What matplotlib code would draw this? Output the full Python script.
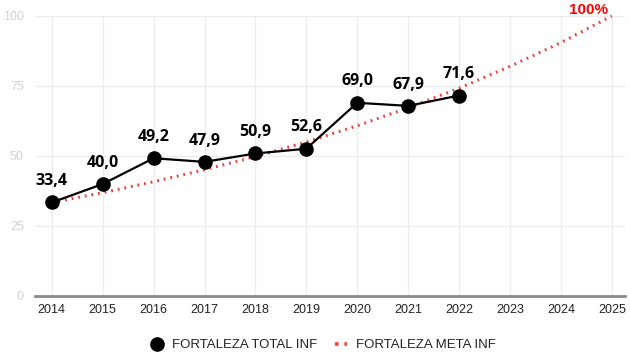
import matplotlib
matplotlib.use("Agg")
import matplotlib.pyplot as plt
from matplotlib.lines import Line2D

years = [2014, 2015, 2016, 2017, 2018, 2019, 2020, 2021, 2022, 2023, 2024, 2025]
total_years = [2014, 2015, 2016, 2017, 2018, 2019, 2020, 2021, 2022]
total_values = [33.4, 40.0, 49.2, 47.9, 50.9, 52.6, 69.0, 67.9, 71.6]
meta_values = [33.4, 36.9, 40.8, 45.1, 49.8, 55.0, 60.8, 67.2, 74.2, 82.0, 90.5, 100.0]
y_ticks = [0, 25, 50, 75, 100]
total_label = "FORTALEZA TOTAL INF"
meta_label = "FORTALEZA META INF"

plt.rcParams['font.family'] = ['Liberation Sans', 'DejaVu Sans']

fig = plt.figure(figsize=(6.3, 3.56), dpi=100)
ax = fig.add_axes([35 / 630, 1 - 296 / 356, 590 / 630, 280 / 356])

red = "#e8433b"
ax.plot(years, meta_values, color=red, lw=2.2, linestyle=(0, (0.6, 1.6)),
        dash_capstyle='butt', zorder=2, clip_on=False)
ax.plot(total_years, total_values, color="black", lw=1.6, marker="o",
        markersize=9.5, zorder=3, clip_on=False)

for x, v in zip(total_years, total_values):
    ax.annotate(f"{v:.1f}".replace(".", ","), (x, v), xytext=(0, 12.5),
                textcoords="offset points", ha="center", va="baseline",
                fontsize=11.5, fontweight="bold", family=["Open Sans", "DejaVu Sans"],
                color="black", zorder=4)

ax.annotate("100%", (years[-1], meta_values[-1]), xytext=(-3, 1.5),
            textcoords="offset points", ha="right", va="baseline",
            fontsize=11, fontweight="bold", family=["Liberation Sans", "DejaVu Sans"],
            color="#ff0000", annotation_clip=False)

ax.set_xlim(2013.67, 2025.26)
ax.set_ylim(0, 100)
ax.set_xticks(years)
ax.set_xticklabels([str(y) for y in years])
ax.set_yticks(y_ticks)
ax.grid(True, color="#ececec", lw=1)
ax.set_axisbelow(True)
for s in ["top", "right", "left"]:
    ax.spines[s].set_visible(False)
ax.spines["bottom"].set_color("#8a8a8a")
ax.spines["bottom"].set_linewidth(2)
ax.tick_params(axis="x", length=0, labelsize=9, colors="#222222", pad=6)
ax.tick_params(axis="y", length=0, labelsize=9, labelcolor="#d0d0d0", pad=8)

handles = [
    Line2D([], [], color="black", marker="o", markersize=9.5, linestyle="none"),
    Line2D([], [], color=red, lw=2.6, linestyle=(0, (1, 1.6))),
]
fig.legend(handles, [total_label, meta_label], loc="center",
           bbox_to_anchor=(0.513, 1 - 345 / 356), ncol=2, frameon=False,
           fontsize=9.5, handlelength=0.9, handletextpad=0.7, columnspacing=1.35,
           labelcolor="#222222")

fig.savefig("out.png", dpi=100)
